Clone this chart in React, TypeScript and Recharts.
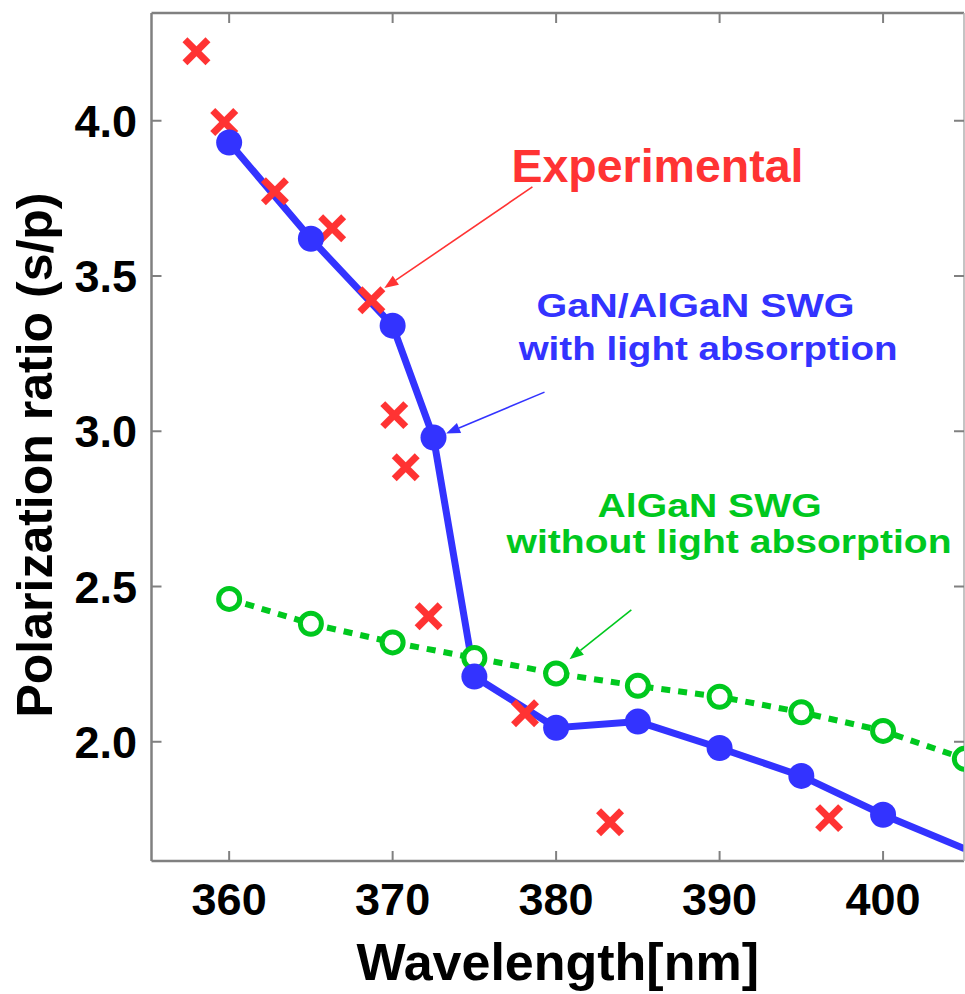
import React from 'react';
import { ComposedChart, Line, Scatter, XAxis, YAxis, ReferenceLine, ReferenceDot } from 'recharts';

// ---- data ----
const wavelengthsWithAbs = [360, 365, 370, 372.5, 375, 380, 385, 390, 395, 400, 405];
const ratioWithAbs = [3.93, 3.62, 3.34, 2.98, 2.21, 2.045, 2.065, 1.98, 1.89, 1.765, 1.655];
const wavelengthsNoAbs = [360, 365, 370, 375, 380, 385, 390, 395, 400, 405];
const ratioNoAbs = [2.46, 2.38, 2.32, 2.27, 2.22, 2.18, 2.145, 2.095, 2.035, 1.945];
const wavelengthsExp = [358.0, 359.7, 362.8, 366.3, 368.7, 370.1, 370.8, 372.2, 378.1, 383.3, 396.7];
const ratioExp = [4.224, 3.996, 3.773, 3.654, 3.422, 3.052, 2.884, 2.404, 2.092, 1.741, 1.754];
const xTicks = [360, 370, 380, 390, 400];
const yTicks = [2.0, 2.5, 3.0, 3.5, 4.0];
const xDomain = [355.25, 404.95];
const yDomain = [1.616, 4.347];

// annotation anchors (data coordinates)
const expLabel = { x: 386.2, y: 3.804, text: 'Experimental' };
const expArrow = [{ x: 378.55, y: 3.787 }, { x: 369.49, y: 3.461 }];
const absLabel1 = { x: 388.53, y: 3.368, text: 'GaN/AlGaN SWG' };
const absLabel2 = { x: 389.3, y: 3.229, text: 'with light absorption' };
const absArrow = [{ x: 379.29, y: 3.126 }, { x: 373.27, y: 2.993 }];
const noAbsLabel1 = { x: 389.39, y: 2.725, text: 'AlGaN SWG' };
const noAbsLabel2 = { x: 390.58, y: 2.608, text: 'without light absorption' };
const noAbsArrow = [{ x: 384.6, y: 2.425 }, { x: 380.82, y: 2.266 }];

const withAbsData = wavelengthsWithAbs.map((x, i) => ({ x, y: ratioWithAbs[i] }));
const noAbsData = wavelengthsNoAbs.map((x, i) => ({ x, y: ratioNoAbs[i] }));
const expData = wavelengthsExp.map((x, i) => ({ x, y: ratioExp[i] }));

const FONT = '"Liberation Sans", Arial, sans-serif';
const BLUE = '#3333ff';
const RED = '#ff3333';
const GREEN = '#00c81e';
const AXIS = '#808080';
const TICK_LEN = 10;
const MARGIN_X = 22;
const MARGIN_Y = 24.5;

const XMark = (props: any) => {
  const { cx, cy } = props;
  const s = 11.5;
  return (
    <g>
      <line x1={cx - s} y1={cy - s} x2={cx + s} y2={cy + s} stroke={RED} strokeWidth={7} />
      <line x1={cx - s} y1={cy + s} x2={cx + s} y2={cy - s} stroke={RED} strokeWidth={7} />
    </g>
  );
};

const BlueDot = (props: any) => {
  const { cx, cy, payload } = props;
  if (payload && payload.x >= 405) return <g />;
  return <circle cx={cx} cy={cy} r={13} fill={BLUE} />;
};

const GreenDot = (props: any) => {
  const { cx, cy, index } = props;
  if (cx == null || cy == null) return <g key={index} />;
  return <circle key={index} cx={cx} cy={cy} r={10.5} fill="#fff" stroke={GREEN} strokeWidth={5} />;
};

const makeArrow = (color: string) => (props: any) => {
  const { x1, y1, x2, y2 } = props;
  const dx = x2 - x1;
  const dy = y2 - y1;
  const len = Math.sqrt(dx * dx + dy * dy);
  const ux = dx / len;
  const uy = dy / len;
  const hl = 14;
  const hw = 5.5;
  const bx = x2 - ux * hl;
  const by = y2 - uy * hl;
  const pts = `${x2},${y2} ${bx - uy * hw},${by + ux * hw} ${bx + uy * hw},${by - ux * hw}`;
  return (
    <g>
      <line x1={x1} y1={y1} x2={bx} y2={by} stroke={color} strokeWidth={1.6} />
      <polygon points={pts} fill={color} />
    </g>
  );
};

const makeText = (text: string, color: string, size: number, width?: number) => (props: any) => {
  const { cx, cy } = props;
  const extra: any = width ? { textLength: width, lengthAdjust: 'spacingAndGlyphs' } : {};
  return (
    <text x={cx} y={cy} textAnchor="middle" fill={color} fontSize={size} fontWeight="bold" fontFamily={FONT} {...extra}>
      {text}
    </text>
  );
};

const XLabel = (props: any) => {
  const vb = props.viewBox || {};
  return (
    <text x={vb.x + vb.width / 2} y={vb.y + 119} textAnchor="middle" fontSize={52} fontWeight="bold" fontFamily={FONT} fill="#000">
      Wavelength[nm]
    </text>
  );
};

const YLabel = (props: any) => {
  const vb = props.viewBox || {};
  const x = vb.x + 52;
  const y = vb.y + vb.height / 2 + 18;
  return (
    <text x={x} y={y} transform={`rotate(-90 ${x} ${y})`} textAnchor="middle" fontSize={50} fontWeight="bold" fontFamily={FONT} fill="#000">
      Polarization ratio (s/p)
    </text>
  );
};

// custom ticks: inward tick marks + labels
const BottomTick = (props: any) => {
  const { x, y, payload } = props;
  const axisY = y - MARGIN_X;
  return (
    <g>
      <line x1={x} y1={axisY} x2={x} y2={axisY - TICK_LEN} stroke={AXIS} strokeWidth={2} />
      <text x={x} y={axisY + 54} textAnchor="middle" fontSize={45} fontWeight="bold" fontFamily={FONT} fill="#000">
        {payload.value}
      </text>
    </g>
  );
};

const TopTick = (props: any) => {
  const { x, y } = props;
  const axisY = y + MARGIN_X;
  return <line x1={x} y1={axisY} x2={x} y2={axisY + TICK_LEN} stroke={AXIS} strokeWidth={2} />;
};

const LeftTick = (props: any) => {
  const { x, y, payload } = props;
  const axisX = x + MARGIN_Y;
  return (
    <g>
      <line x1={axisX} y1={y} x2={axisX + TICK_LEN} y2={y} stroke={AXIS} strokeWidth={2} />
      <text x={axisX - 14.5} y={y + 16} textAnchor="end" fontSize={45} fontWeight="bold" fontFamily={FONT} fill="#000">
        {Number(payload.value).toFixed(1)}
      </text>
    </g>
  );
};

const RightTick = (props: any) => {
  const { x, y } = props;
  const axisX = x - MARGIN_Y;
  return <line x1={axisX} y1={y} x2={axisX - TICK_LEN} y2={y} stroke={AXIS} strokeWidth={2} />;
};

export default function App() {
  return (
    <div style={{ position: 'absolute', left: 0, top: 0, width: 965, height: 994, background: '#fff' }}>
      <ComposedChart width={965} height={994} margin={{ top: 12, right: 0, bottom: 0, left: 0 }}>
        <XAxis
          xAxisId="b"
          type="number"
          dataKey="x"
          domain={xDomain}
          allowDataOverflow
          ticks={xTicks}
          orientation="bottom"
          height={133}
          tickSize={0}
          tickMargin={MARGIN_X}
          tick={BottomTick}
          tickLine={false}
          axisLine={{ stroke: AXIS, strokeWidth: 2.5 }}
          label={<XLabel />}
        />
        <XAxis
          xAxisId="t"
          type="number"
          dataKey="x"
          domain={xDomain}
          allowDataOverflow
          ticks={xTicks}
          orientation="top"
          height={1}
          tickSize={0}
          tickMargin={MARGIN_X}
          tick={TopTick}
          tickLine={false}
          axisLine={{ stroke: AXIS, strokeWidth: 2.5 }}
        />
        <YAxis
          yAxisId="l"
          type="number"
          domain={yDomain}
          allowDataOverflow
          ticks={yTicks}
          orientation="left"
          width={151.5}
          tickSize={0}
          tickMargin={MARGIN_Y}
          tick={LeftTick}
          tickLine={false}
          axisLine={{ stroke: AXIS, strokeWidth: 2.5 }}
          label={<YLabel />}
        />
        <YAxis
          yAxisId="r"
          type="number"
          domain={yDomain}
          allowDataOverflow
          ticks={yTicks}
          orientation="right"
          width={1}
          tickSize={0}
          tickMargin={MARGIN_Y}
          tick={RightTick}
          tickLine={false}
          axisLine={{ stroke: '#b0b0b0', strokeWidth: 1.5 }}
        />

        <Line
          xAxisId="b"
          yAxisId="l"
          data={noAbsData}
          dataKey="y"
          stroke={GREEN}
          strokeWidth={6}
          strokeDasharray="9 8"
          dot={GreenDot}
          activeDot={false}
          isAnimationActive={false}
        />
        <Line
          xAxisId="b"
          yAxisId="l"
          data={withAbsData}
          dataKey="y"
          stroke={BLUE}
          strokeWidth={7}
          dot={false}
          activeDot={false}
          isAnimationActive={false}
        />
        <Scatter xAxisId="b" yAxisId="l" data={expData} dataKey="y" shape={XMark} isAnimationActive={false} />
        <Scatter xAxisId="b" yAxisId="l" data={withAbsData} dataKey="y" shape={BlueDot} isAnimationActive={false} />

        <ReferenceLine xAxisId="b" yAxisId="l" segment={expArrow} shape={makeArrow(RED)} />
        <ReferenceLine xAxisId="b" yAxisId="l" segment={absArrow} shape={makeArrow(BLUE)} />
        <ReferenceLine xAxisId="b" yAxisId="l" segment={noAbsArrow} shape={makeArrow(GREEN)} />

        <ReferenceDot xAxisId="b" yAxisId="l" x={expLabel.x} y={expLabel.y} r={0} shape={makeText(expLabel.text, RED, 46, 292)} />
        <ReferenceDot xAxisId="b" yAxisId="l" x={absLabel1.x} y={absLabel1.y} r={0} shape={makeText(absLabel1.text, BLUE, 34, 318)} />
        <ReferenceDot xAxisId="b" yAxisId="l" x={absLabel2.x} y={absLabel2.y} r={0} shape={makeText(absLabel2.text, BLUE, 34, 379)} />
        <ReferenceDot xAxisId="b" yAxisId="l" x={noAbsLabel1.x} y={noAbsLabel1.y} r={0} shape={makeText(noAbsLabel1.text, GREEN, 34, 224)} />
        <ReferenceDot xAxisId="b" yAxisId="l" x={noAbsLabel2.x} y={noAbsLabel2.y} r={0} shape={makeText(noAbsLabel2.text, GREEN, 34, 445)} />
      </ComposedChart>
    </div>
  );
}
